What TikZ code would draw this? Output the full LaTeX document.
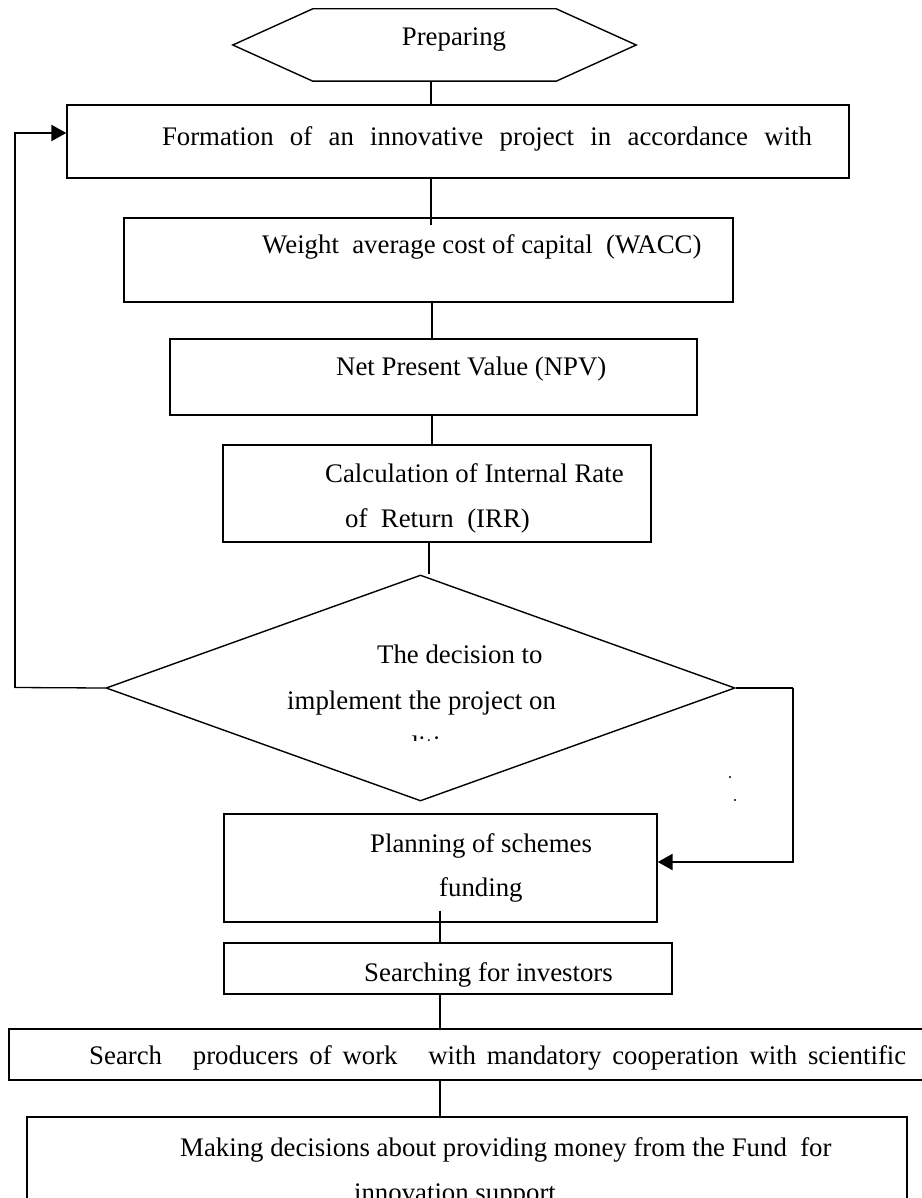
\documentclass[tikz,border=0pt]{standalone}
\usepackage{fontspec}
\setmainfont{Liberation Serif}
\usetikzlibrary{arrows.meta,calc,shapes.geometric}
\begin{document}
\begin{tikzpicture}[x=1pt,y=-1pt,
  boxline/.style={draw=black,line width=1.4pt},
  stepbox/.style={boxline,rectangle,inner sep=0pt},
  txt/.style={inner sep=0pt,font=\fontsize{26.8}{45}\selectfont},
  conn/.style={draw=black,line width=1.1pt},
  loopline/.style={draw=black,line width=1.3pt},
  looparrow/.style={draw=black,line width=2.4pt,-{Triangle[length=15pt,width=16pt]}}]
\useasboundingbox (0,0) rectangle (921,1198);
% shapes
\node[inner sep=0pt,minimum width=403,minimum height=72] (hex) at (434.5,45) {};
\draw[boxline] (hex.west) -- ($(hex.north west)+(80,0)$) -- ($(hex.north east)+(-80,0)$) -- (hex.east) -- ($(hex.south east)+(-80,0)$) -- ($(hex.south west)+(80,0)$) -- cycle;
\node[stepbox,minimum width=782,minimum height=73] (b1) at (458,141.5) {};
\node[stepbox,minimum width=609,minimum height=84] (b2) at (428.5,260) {};
\node[stepbox,minimum width=527,minimum height=76] (b3) at (433.5,377) {};
\node[stepbox,minimum width=428,minimum height=97] (b4) at (437,493.5) {};
\node[boxline,diamond,inner sep=0pt,minimum width=629,minimum height=226] (dec) at (420.5,688) {};
\node[stepbox,minimum width=433,minimum height=108] (b5) at (440.5,868) {};
\node[stepbox,minimum width=448,minimum height=51] (b6) at (448,968.5) {};
\node[stepbox,minimum width=920,minimum height=51] (b7) at (469,1054.5) {};
\node[stepbox,minimum width=880,minimum height=98] (b8) at (467,1166) {};
% texts
\node[txt,anchor=base] (tprep) at (454,46) {Preparing};
\node[txt,anchor=base] (t1) at (487,146) {\makebox[650pt][s]{Formation of an innovative project in accordance with}};
\node[txt,anchor=base west] (t2) at (262,254) {Weight\ \ average cost of capital\ \ (WACC)};
\node[txt,anchor=base west] (t3) at (336,375) {Net Present Value (NPV)};
\node[txt,anchor=base west] (t4a) at (325,482) {Calculation of Internal Rate};
\node[txt,anchor=base west] (t4b) at (345,527) {of\ \ Return\ \ (IRR)};
\node[txt,anchor=base west] (t5a) at (377,663) {The decision to};
\node[txt,anchor=base west] (t5b) at (287,709) {implement the project on};
\begin{scope}
\clip (300,733) rectangle (560,740);
\node[txt,anchor=base] (t5c) at (422,754) {conditions};
\end{scope}
\node[txt,anchor=base west] (t6a) at (370,852) {Planning of schemes};
\node[txt,anchor=base west] (t6b) at (439,896) {funding};
\node[txt,anchor=base west] (t7) at (364,981) {Searching for investors};
\node[txt,anchor=base west] (t8) at (89,1064) {\makebox[817pt][s]{Search\hspace{20pt} producers of work\hspace{20pt} with mandatory cooperation with scientific}};
\node[txt,anchor=base west] (t9a) at (180,1156) {Making decisions about providing money from the Fund\ \ for};
\node[txt,anchor=base] (t9b) at (455,1201) {innovation support};
% stray dots
\fill (730,777) circle (1.1);
\fill (735,800) circle (1.1);
% connectors
\coordinate (cxa) at (431,0);
\coordinate (cxb) at (432,0);
\coordinate (cxc) at (429,0);
\coordinate (cxd) at (440,0);
\draw[conn] (hex.south -| cxa) -- (b1.north -| cxa);
\draw[conn] (b1.south -| cxa) -- ([yshift=-8pt]b2.north -| cxa);
\draw[conn] (b2.south -| cxb) -- (b3.north -| cxb);
\draw[conn] (b3.south -| cxb) -- (b4.north -| cxb);
\draw[conn] (b4.south -| cxc) -- (dec.north -| cxc);
\coordinate (cL) at (15,687.5);
\coordinate (cR) at (793,688);
\draw[loopline] (dec.west) -- (cL);
\draw[looparrow] (cL) |- ([yshift=8.5pt]b1.west);
\draw[loopline] (dec.east) -- (cR);
\draw[looparrow] (cR) |- ([yshift=6pt]b5.east);
\draw[conn] ([yshift=12pt]b5.south -| cxd) -- (b6.north -| cxd);
\draw[conn] (b6.south -| cxd) -- (b7.north -| cxd);
\draw[conn] (b7.south -| cxd) -- (b8.north -| cxd);
\end{tikzpicture}
\end{document}
